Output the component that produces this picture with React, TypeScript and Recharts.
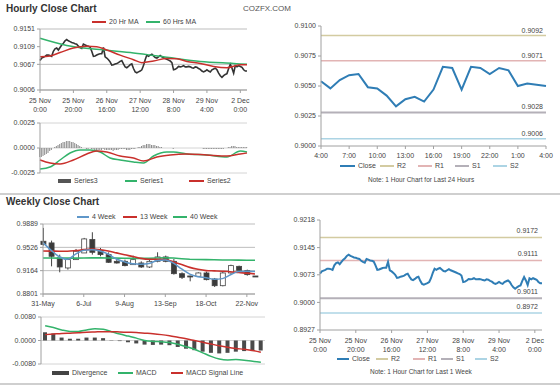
import React from 'react';
import { ComposedChart, LineChart, Line, Bar, XAxis, YAxis, CartesianGrid, ReferenceLine } from 'recharts';

const FONT = '"Liberation Sans", Arial, sans-serif';

// ---- hourly closes, 25 Nov 0:00 .. 2 Dec 4:00 (one point per trading hour)
const hourlyClose = [
  0.9076, 0.9082, 0.9084, 0.9086, 0.9089, 0.9089, 0.9088, 0.9086, 0.9098, 0.9104,
  0.9106, 0.9101, 0.9107, 0.9113, 0.9117, 0.9123, 0.9126, 0.9123, 0.9121, 0.9119,
  0.9118, 0.9116, 0.9115, 0.9110, 0.9107, 0.9105, 0.9115, 0.9113, 0.9111, 0.9110,
  0.9108, 0.9098, 0.9086, 0.9087, 0.9089, 0.9091, 0.9092, 0.9092, 0.9107, 0.9085,
  0.9082, 0.9078, 0.9073, 0.9065, 0.9066, 0.9068, 0.9069, 0.9071, 0.9074, 0.9076,
  0.9068, 0.9061, 0.9059, 0.9062, 0.9066, 0.9068, 0.9057, 0.9049, 0.9047, 0.9049,
  0.9051, 0.9054, 0.9064, 0.9078, 0.9089, 0.9086, 0.9089, 0.9091, 0.9087, 0.9083,
  0.9082, 0.9085, 0.9088, 0.9085, 0.9083, 0.9081, 0.9079, 0.9077, 0.9075, 0.9071,
  0.9054, 0.9055, 0.9058, 0.9062, 0.9061, 0.9062, 0.9064, 0.9061, 0.9061, 0.9062,
  0.9061, 0.9059, 0.9058, 0.9061, 0.9060, 0.9057, 0.9055, 0.9051, 0.9049, 0.9051,
  0.9054, 0.9051, 0.9049, 0.9054, 0.9056, 0.9058, 0.9054, 0.9046, 0.9040, 0.9036,
  0.9040, 0.9043, 0.9045, 0.9057, 0.9067, 0.9058, 0.9046, 0.9064, 0.9061, 0.9064,
  0.9062, 0.9060, 0.9054, 0.9051, 0.9051,
];

// moving averages at a few hours: [hour index, value]
const ma20Points: [number, number][] = [
  [0, 0.9085], [6, 0.9087], [12, 0.9095], [20, 0.9106], [28, 0.911], [34, 0.9109],
  [40, 0.9101], [48, 0.9089], [56, 0.9078], [61, 0.9071], [68, 0.9075], [76, 0.9081],
  [82, 0.908], [88, 0.9074], [96, 0.9069], [104, 0.9062], [112, 0.9059], [120, 0.9066], [124, 0.9066],
];
const ma60Points: [number, number][] = [
  [0, 0.9129], [16, 0.9112], [36, 0.9102], [56, 0.9094], [76, 0.9084], [96, 0.9074],
  [116, 0.9069], [124, 0.9067],
];

// hourly MACD panel
const hourlySeries3 = [
  -0.0009, -0.0009, -0.0008, -0.0007, -0.0006, -0.0005, -0.0003, -0.0002, 0, 0.0001,
  0.0002, 0.0003, 0.0004, 0.0005, 0.0006, 0.0006, 0.0007, 0.0007, 0.0007, 0.0006,
  0.0006, 0.0005, 0.0004, 0.0003, 0.0002, 0.0001, 0, 0, -0.0001, -0.0001,
  0, -0.0001, -0.0001, -0.0002, -0.0002, -0.0002, -0.0002, -0.0002, -0.0001, -0.0002,
  -0.0002, -0.0002, -0.0002, -0.0002, -0.0003, -0.0002, -0.0002, -0.0002, -0.0001, -0.0001,
  -0.0001, -0.0001, -0.0002, -0.0002, -0.0002, -0.0001, -0.0001, -0.0001, 0, 0.0001,
  0.0001, 0.0002, 0.0003, 0.0003, 0.0004, 0.0004, 0.0004, 0.0003, 0.0003, 0.0003,
  0.0002, 0.0002, 0.0001, 0.0001, 0, 0, 0, 0, 0, 0,
  -0.0001, 0, 0, 0, 0, 0, 0, 0, 0, 0,
  0, 0, 0, 0, 0, 0, 0, 0, -0.0001, -0.0001,
  -0.0001, -0.0001, -0.0001, -0.0001, -0.0001, -0.0001, -0.0001, -0.0001, -0.0001, -0.0001,
  -0.0001, 0, 0, 0.0001, 0.0001, 0.0002, 0.0002, 0.0002, 0.0001, 0.0001,
  0.0001, 0.0001, 0.0001, 0.0001, 0.0001,
];
const hourlySeries1: [number, number][] = [
  [0, -0.0021], [6, -0.0019], [12, -0.0012], [18, -0.0005], [24, -0.0002], [30, -0.0002],
  [36, -0.0004], [42, -0.001], [48, -0.0012], [56, -0.0014], [62, -0.0015], [68, -0.0008],
  [76, -0.0004], [80, -0.0004], [88, -0.0006], [100, -0.0007], [112, -0.0009], [120, -0.0003], [124, -0.0004],
];
const hourlySeries2: [number, number][] = [
  [0, -0.0012], [6, -0.0015], [12, -0.0016], [20, -0.0012], [28, -0.0006], [34, -0.0003],
  [40, -0.0004], [48, -0.0008], [56, -0.001], [62, -0.0013], [70, -0.0009], [78, -0.0007],
  [88, -0.0006], [100, -0.0007], [112, -0.0008], [120, -0.0006], [124, -0.0005],
];

const hourTicks = [0, 20, 40, 60, 80, 100, 120];
const hourTickLabels = [
  ['25 Nov', '0:00'], ['25 Nov', '20:00'], ['26 Nov', '16:00'], ['27 Nov', '12:00'],
  ['28 Nov', '8:00'], ['29 Nov', '4:00'], ['2 Dec', '0:00'],
];

// ---- last 24 hours
const last24Close = [
  0.9054, 0.9048, 0.9055, 0.9059, 0.906, 0.9049, 0.9048, 0.9042, 0.9033, 0.9039,
  0.9041, 0.9037, 0.9047, 0.9066, 0.9065, 0.9047, 0.9066, 0.9065, 0.906, 0.9065,
  0.9063, 0.905, 0.9052, 0.9051, 0.905,
];
const last24Ticks = [0, 3, 6, 9, 12, 15, 18, 21, 24];
const last24TickLabels = ['4:00', '7:00', '10:00', '13:00', '16:00', '19:00', '22:00', '1:00', '4:00'];

const levelNames = ['R2', 'R1', 'S1', 'S2'];
const levels24 = [0.9092, 0.9071, 0.9028, 0.9006];
const levelsWeek = [0.9172, 0.9111, 0.9011, 0.8972];

// ---- weekly candles, 31-May .. current week
const weekOpen = [
  0.9621, 0.9595, 0.9361, 0.9206, 0.9335, 0.9439, 0.9647, 0.9481, 0.9413, 0.9309,
  0.9309, 0.9257, 0.9283, 0.9221, 0.9309, 0.9377, 0.9309, 0.9117, 0.9081, 0.9076,
  0.9128, 0.9034, 0.893, 0.9128, 0.9231, 0.9164, 0.9081,
];
const weekHigh = [
  0.9828, 0.9631, 0.9413, 0.9361, 0.9501, 0.9673, 0.9761, 0.9517, 0.9449, 0.9346,
  0.9335, 0.9398, 0.9309, 0.9335, 0.9449, 0.9398, 0.9346, 0.9138, 0.9086, 0.9138,
  0.9148, 0.905, 0.9148, 0.9257, 0.9242, 0.918, 0.9081,
];
const weekLow = [
  0.9553, 0.9231, 0.9138, 0.918, 0.9335, 0.9439, 0.9413, 0.9387, 0.9283, 0.9273,
  0.9231, 0.9257, 0.9206, 0.9206, 0.9294, 0.9294, 0.9102, 0.9034, 0.8998, 0.9076,
  0.9013, 0.891, 0.892, 0.9117, 0.9148, 0.9086, 0.9076,
];
const weekClose = [
  0.9569, 0.9387, 0.9221, 0.9335, 0.9465, 0.9657, 0.9449, 0.9413, 0.9294, 0.9283,
  0.9242, 0.9335, 0.9221, 0.9309, 0.9377, 0.9309, 0.9117, 0.906, 0.9071, 0.9128,
  0.9024, 0.893, 0.9128, 0.9242, 0.9169, 0.9102, 0.9076,
];
const week4 = [
  0.96, 0.948, 0.938, 0.934, 0.942, 0.948, 0.949, 0.947, 0.942, 0.9345,
  0.93, 0.927, 0.9265, 0.9275, 0.932, 0.933, 0.928, 0.919, 0.911, 0.907,
  0.9055, 0.903, 0.904, 0.91, 0.915, 0.9155, 0.915,
];
const week13 = [
  0.947, 0.9468, 0.9465, 0.9465, 0.9475, 0.949, 0.9498, 0.949, 0.947, 0.944,
  0.941, 0.9385, 0.9355, 0.934, 0.934, 0.9335, 0.93, 0.926, 0.9215, 0.9185,
  0.9165, 0.916, 0.9155, 0.9148, 0.9135, 0.9125, 0.9112,
];
const week40 = [
  0.936, 0.936, 0.9358, 0.9358, 0.9358, 0.936, 0.9362, 0.9362, 0.936, 0.9358,
  0.9356, 0.9355, 0.9355, 0.9356, 0.936, 0.9362, 0.936, 0.935, 0.9342, 0.9338,
  0.9335, 0.9333, 0.933, 0.933, 0.9328, 0.9326, 0.9325,
];
const weekTicks = [0, 5, 10, 15, 20, 25];
const weekTickLabels = ['31-May', '6-Jul', '9-Aug', '13-Sep', '18-Oct', '22-Nov'];

const weekDivergence = [
  0.0028, 0.0024, 0.001, 0.0006, 0.0006, 0.001, 0.001, 0.0008, 0.0001, -0.0002,
  -0.0006, -0.001, -0.0014, -0.0015, -0.0014, -0.0016, -0.0022, -0.0028, -0.0033, -0.0038,
  -0.0042, -0.0044, -0.0042, -0.0038, -0.0036, -0.0036, -0.0034,
];
const weekMacd = [
  0.005, 0.0044, 0.0036, 0.0031, 0.0031, 0.0036, 0.004, 0.0038, 0.003, 0.0022,
  0.0015, 0.0008, 0, -0.0003, -0.0004, -0.0007, -0.0013, -0.0021, -0.003, -0.0042,
  -0.0054, -0.0063, -0.0066, -0.0065, -0.0067, -0.0071, -0.0074,
];
const weekSignal = [
  0.002, 0.0022, 0.0024, 0.0025, 0.0026, 0.0028, 0.0029, 0.003, 0.003, 0.0029,
  0.0028, 0.0027, 0.0025, 0.0023, 0.002, 0.0016, 0.0011, 0.0006, 0, -0.0006,
  -0.0012, -0.0018, -0.0023, -0.0027, -0.003, -0.0034, -0.004,
];

// ---- colours
const RED = '#c9302c';
const GREEN = '#33b36b';
const BLUE = '#2f7db5';
const WEEK4 = '#5f97c9';
const LEVEL_COLORS = ['#d3cba1', '#e2b4b4', '#b4b0b8', '#acd4e4'];
const GRID = '#bdbdbd';
const AXIS = '#a0a0a0';
const TXT = '#444';

const pick = (pts: [number, number][]) => new Map(pts);
const m20 = pick(ma20Points);
const m60 = pick(ma60Points);
const s1 = pick(hourlySeries1);
const s2 = pick(hourlySeries2);

const hourlyData = hourlyClose.map((close, i) => ({
  i,
  close,
  ma20: m20.get(i) ?? null,
  ma60: m60.get(i) ?? null,
  series3: hourlySeries3[i],
  series1: s1.get(i) ?? null,
  series2: s2.get(i) ?? null,
}));

const last24Data = last24Close.map((close, i) => ({ i, close }));

const weekData = weekOpen.map((open, i) => ({
  i,
  open,
  close: weekClose[i],
  high: weekHigh[i],
  low: weekLow[i],
  range: [weekLow[i], weekHigh[i]],
  w4: week4[i],
  w13: week13[i],
  w40: week40[i],
  divergence: weekDivergence[i],
  macd: weekMacd[i],
  signal: weekSignal[i],
}));

const tickStyle = { fontSize: 7, fill: TXT, fontFamily: FONT };

const hourTick = (props: any) => {
  const { x, y, payload } = props;
  const lab = hourTickLabels[hourTicks.indexOf(payload.value)] || ['', ''];
  return (
    <text x={x} y={y} textAnchor="middle" {...tickStyle}>
      <tspan x={x} dy={8}>{lab[0]}</tspan>
      <tspan x={x} dy={9}>{lab[1]}</tspan>
    </text>
  );
};

const Candle = (props: any) => {
  const { x, y, width, height, payload } = props;
  const cx = x + width / 2;
  const { open, close, high, low } = payload;
  const span = high - low;
  const k = span > 0 ? height / span : 0;
  const top = y + (high - Math.max(open, close)) * k;
  const bot = y + (high - Math.min(open, close)) * k;
  const bear = close < open;
  return (
    <g>
      <line x1={cx} x2={cx} y1={y} y2={y + height} stroke="#444" strokeWidth={1} />
      <rect
        x={cx - 2.5}
        y={top}
        width={5}
        height={Math.max(bot - top, 1)}
        fill={bear ? '#3a3a3a' : '#fff'}
        stroke="#444"
        strokeWidth={0.8}
      />
    </g>
  );
};

function Key({ x, y, w, color, label, thick = 1.5 }: { x: number; y: number; w: number; color: string; label: string; thick?: number }) {
  return (
    <>
      <div style={{ position: 'absolute', left: x, top: y - thick / 2, width: w, height: thick, background: color }} />
      <div style={{ position: 'absolute', left: x + w + 3, top: y - 5, fontSize: 7, lineHeight: '10px', color: TXT, fontFamily: FONT, whiteSpace: 'nowrap' }}>
        {label}
      </div>
    </>
  );
}

const Text = ({ x, y, children, size = 7, bold = false, color = TXT }: any) => (
  <div
    style={{
      position: 'absolute', left: x, top: y, fontSize: size, fontWeight: bold ? 700 : 400,
      color, fontFamily: FONT, whiteSpace: 'nowrap', lineHeight: 1,
    }}
  >
    {children}
  </div>
);

const Box = ({ left, top, children }: any) => (
  <div style={{ position: 'absolute', left, top }}>{children}</div>
);

export default function App() {
  return (
    <div style={{ position: 'fixed', left: 0, top: 0, width: 560, height: 386, background: '#fff', overflow: 'hidden' }}>
      <Text x={6} y={4} size={10} bold color="#333">Hourly Close Chart</Text>
      <Text x={243} y={5} size={8} color="#555">COZFX.COM</Text>

      <Key x={92} y={22} w={14} color={RED} label="20 Hr MA" />
      <Key x={146} y={22} w={14} color={GREEN} label="60 Hrs MA" />

      {/* hourly close with moving averages */}
      <Box left={0} top={0}>
        <ComposedChart width={255} height={120} data={hourlyData} margin={{ top: 29, right: 8, left: 0, bottom: 0 }}>
          <CartesianGrid horizontal vertical={false} stroke={GRID} />
          <XAxis dataKey="i" type="number" domain={[0, 124]} ticks={hourTicks} tick={hourTick}
            height={30} tickSize={3} stroke={AXIS} interval={0} />
          <YAxis type="number" domain={[0.9006, 0.9151]} ticks={[0.9006, 0.9067, 0.9109, 0.9151]}
            tickFormatter={(v: number) => v.toFixed(4)} width={40} tick={tickStyle} tickSize={3} stroke={AXIS} />
          <Line dataKey="close" stroke="#333" strokeWidth={1.6} dot={false} isAnimationActive={false} />
          <Line dataKey="ma60" stroke={GREEN} strokeWidth={1.5} dot={false} connectNulls type="monotone" isAnimationActive={false} />
          <Line dataKey="ma20" stroke={RED} strokeWidth={1.5} dot={false} connectNulls type="monotone" isAnimationActive={false} />
        </ComposedChart>
      </Box>

      {/* hourly MACD */}
      <Box left={0} top={110}>
        <ComposedChart width={255} height={70} data={hourlyData} margin={{ top: 13, right: 8, left: 0, bottom: 7 }}>
          <CartesianGrid horizontal vertical={false} stroke="#d4d4d4" />
          <XAxis dataKey="i" type="number" domain={[0, 124]} hide />
          <YAxis type="number" domain={[-0.0025, 0.0025]} ticks={[-0.0025, 0, 0.0025]}
            tickFormatter={(v: number) => v.toFixed(4)} width={40} tick={tickStyle} tickSize={3} stroke={AXIS} />
          <Bar dataKey="series3" fill="#8c8c8c" barSize={1} isAnimationActive={false} />
          <Line dataKey="series1" stroke={GREEN} strokeWidth={1.5} dot={false} connectNulls type="monotone" isAnimationActive={false} />
          <Line dataKey="series2" stroke={RED} strokeWidth={1.5} dot={false} connectNulls type="monotone" isAnimationActive={false} />
        </ComposedChart>
      </Box>
      <Key x={58} y={181} w={13} color="#555" thick={4} label="Series3" />
      <Key x={125} y={181} w={12} color={GREEN} label="Series1" />
      <Key x={189} y={181} w={15} color={RED} label="Series2" />

      {/* last 24 hours */}
      <Box left={280} top={0}>
        <LineChart width={275} height={160} data={last24Data} margin={{ top: 26, right: 9, left: 0, bottom: 0 }}>
          <XAxis dataKey="i" type="number" domain={[0, 24]} ticks={last24Ticks} interval={0}
            tickFormatter={(v: number) => last24TickLabels[last24Ticks.indexOf(v)]} height={14}
            tick={tickStyle} tickSize={3} tickMargin={4} stroke={AXIS} />
          <YAxis type="number" domain={[0.9, 0.91]} ticks={[0.9, 0.9025, 0.905, 0.9075, 0.91]}
            tickFormatter={(v: number) => v.toFixed(4)} width={41} tick={tickStyle} tickSize={3} stroke={AXIS} />
          {levels24.map((v, k) => (
            <ReferenceLine key={levelNames[k]} y={v} stroke={LEVEL_COLORS[k]} strokeWidth={k === 2 ? 2 : 1.5}
              label={{ value: v.toFixed(4), position: 'insideBottomRight', offset: 3, fontSize: 7, fill: TXT, fontFamily: FONT }} />
          ))}
          <Line dataKey="close" stroke={BLUE} strokeWidth={2} dot={false} isAnimationActive={false} />
        </LineChart>
      </Box>
      <Key x={340} y={166} w={15} color={BLUE} thick={2} label="Close" />
      {levelNames.map((n, k) => (
        <Key key={n} x={[380, 418, 455, 493][k]} y={166} w={14} color={LEVEL_COLORS[k]} label={n} />
      ))}
      <Text x={368} y={177} size={6.5}>Note: 1 Hour Chart for Last 24 Hours</Text>

      <div style={{ position: 'absolute', left: 0, top: 193, width: 560, height: 2, background: '#cfcfcf' }} />

      <Text x={6} y={197} size={10} bold color="#333">Weekly Close Chart</Text>
      <Key x={77} y={217} w={12} color={WEEK4} label="4 Week" />
      <Key x={123} y={217} w={14} color={RED} label="13 Week" />
      <Key x={173} y={217} w={14} color={GREEN} label="40 Week" />

      {/* weekly candles */}
      <Box left={0} top={195}>
        <ComposedChart width={262} height={120} data={weekData} margin={{ top: 29, right: 7, left: 0, bottom: 0 }}>
          <CartesianGrid horizontal vertical={false} stroke={GRID} />
          <XAxis dataKey="i" type="number" domain={[0, 26]} ticks={weekTicks} interval={0}
            tickFormatter={(v: number) => weekTickLabels[weekTicks.indexOf(v)]} height={21}
            tick={tickStyle} tickSize={3} tickMargin={4} stroke={AXIS} />
          <YAxis type="number" domain={[0.8801, 0.9889]} ticks={[0.8801, 0.9164, 0.9526, 0.9889]}
            tickFormatter={(v: number) => v.toFixed(4)} width={43} tick={tickStyle} tickSize={3} stroke={AXIS} />
          <Line dataKey="w40" stroke={GREEN} strokeWidth={1.6} dot={false} isAnimationActive={false} />
          <Line dataKey="w13" stroke={RED} strokeWidth={1.6} dot={false} type="monotone" isAnimationActive={false} />
          <Bar dataKey="range" barSize={5} shape={Candle} isAnimationActive={false} />
          <Line dataKey="w4" stroke={WEEK4} strokeWidth={1.5} dot={false} type="monotone" isAnimationActive={false} />
        </ComposedChart>
      </Box>

      {/* weekly MACD */}
      <Box left={0} top={305}>
        <ComposedChart width={270} height={65} data={weekData} margin={{ top: 12, right: 5, left: 0, bottom: 6 }}>
          <CartesianGrid horizontal vertical={false} stroke="#d4d4d4" />
          <XAxis dataKey="i" hide />
          <YAxis type="number" domain={[-0.008, 0.008]} ticks={[-0.008, 0, 0.008]}
            tickFormatter={(v: number) => v.toFixed(4)} width={41} tick={tickStyle} tickSize={3} stroke={AXIS} />
          <Bar dataKey="divergence" fill="#4a4a4a" barSize={4} isAnimationActive={false} />
          <Line dataKey="macd" stroke={GREEN} strokeWidth={1.5} dot={false} type="monotone" isAnimationActive={false} />
          <Line dataKey="signal" stroke={RED} strokeWidth={1.5} dot={false} type="monotone" isAnimationActive={false} />
        </ComposedChart>
      </Box>
      <Key x={52} y={373} w={17} color="#444" thick={4} label="Divergence" />
      <Key x={118} y={373} w={15} color={GREEN} label="MACD" />
      <Key x={171} y={373} w={12} color={RED} label="MACD Signal Line" />

      {/* last week, hourly */}
      <Box left={280} top={195}>
        <LineChart width={275} height={160} data={hourlyData} margin={{ top: 25, right: 13, left: 0, bottom: 0 }}>
          <XAxis dataKey="i" type="number" domain={[0, 124]} ticks={hourTicks} tick={hourTick}
            height={25} tickSize={3} stroke={AXIS} interval={0} />
          <YAxis type="number" domain={[0.8927, 0.9218]} ticks={[0.8927, 0.9, 0.9073, 0.9145, 0.9218]}
            tickFormatter={(v: number) => v.toFixed(4)} width={40} tick={tickStyle} tickSize={3} stroke={AXIS} />
          {levelsWeek.map((v, k) => (
            <ReferenceLine key={levelNames[k]} y={v} stroke={LEVEL_COLORS[k]} strokeWidth={k === 2 ? 2 : 1.5}
              label={{ value: v.toFixed(4), position: 'insideBottomRight', offset: 4, fontSize: 7, fill: TXT, fontFamily: FONT }} />
          ))}
          <Line dataKey="close" stroke={BLUE} strokeWidth={2} dot={false} isAnimationActive={false} />
        </LineChart>
      </Box>
      <Key x={337} y={359} w={12} color={BLUE} thick={2} label="Close" />
      {levelNames.map((n, k) => (
        <Key key={n} x={[376, 413, 441, 475][k]} y={359} w={12} color={LEVEL_COLORS[k]} label={n} />
      ))}
      <Text x={370} y={369} size={6.5}>Note: 1 Hour Chart for Last 1 Week</Text>

      <div style={{ position: 'absolute', left: 0, top: 383, width: 560, height: 2, background: '#cfcfcf' }} />
    </div>
  );
}
